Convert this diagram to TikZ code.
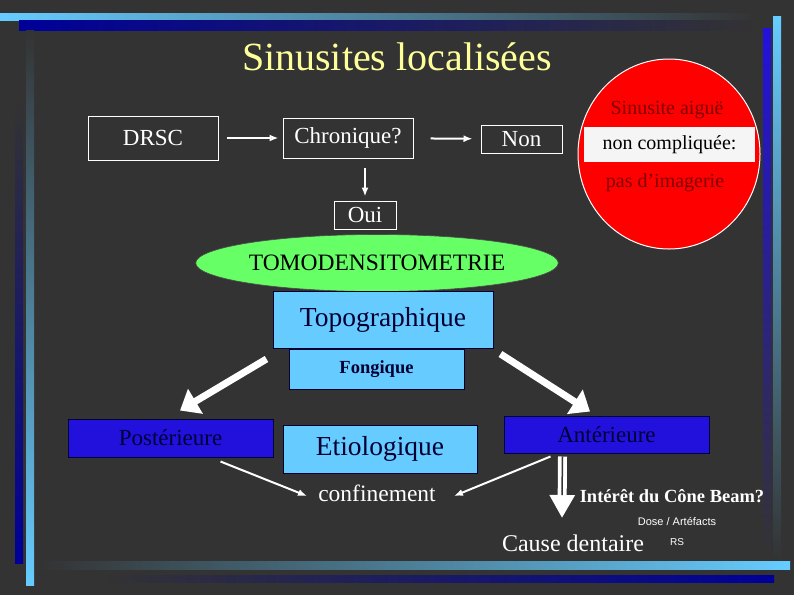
\documentclass[tikz,border=0pt]{standalone}
\usepackage{fontspec}
\setmainfont{Liberation Serif}
\newfontfamily\smallsans{Liberation Sans}
\usepackage{tikz}
\usetikzlibrary{shapes,arrows,arrows.meta,positioning,calc}
\definecolor{slidebg}{HTML}{333333}
\definecolor{titleyellow}{HTML}{FFFF99}
\definecolor{skyblue}{HTML}{66CCFF}
\definecolor{deepblue}{HTML}{2211DD}
\definecolor{navyblue}{HTML}{000099}
\definecolor{boxtext}{HTML}{000033}
\definecolor{tomogreen}{HTML}{66FF66}
\definecolor{stopred}{HTML}{FF0000}
\definecolor{darkred}{HTML}{800000}
\definecolor{bandwhite}{HTML}{F5F5F5}
\tikzset{%
whitebox/.style={rectangle, draw=white, line width=1pt, text=white, inner sep=0pt, font=\fontsize{23}{26}\selectfont},
skybox/.style={rectangle, draw=boxtext, line width=1pt, fill=skyblue, text=boxtext, inner sep=0pt},
bluebox/.style={rectangle, draw=boxtext, line width=1pt, fill=deepblue, text=boxtext, minimum width=205pt, inner sep=0pt, font=\fontsize{23}{26}\selectfont},
stopline/.style={text=darkred, inner sep=0pt, font=\fontsize{20}{22}\selectfont},
plaintext/.style={text=white, inner sep=0pt, font=\fontsize{23.5}{26}\selectfont},
arr/.style={draw=white, line width=2pt, -{Latex[length=9pt,width=7pt]}},
bigarrow/.style={draw=white, line width=7pt, -{Triangle[length=18pt,width=28pt]}}
}

\begin{document}
\begin{tikzpicture}[x=1pt,y=-1pt]
	\useasboundingbox (0,0) rectangle (794,595);
	\fill[slidebg] (0,0) rectangle (794,595);

	% frame bars
	\shade[left color=skyblue, middle color=skyblue!85!slidebg, right color=slidebg] (0,13) rectangle (755,20);
	\shade[left color=navyblue, right color=slidebg] (19,20) rectangle (760,30);
	\shade[top color=slidebg, bottom color=skyblue] (26,30) rectangle (34,585);
	\shade[top color=slidebg, bottom color=navyblue] (15,100) rectangle (23,563);
	\shade[top color=skyblue, bottom color=slidebg] (773,16) rectangle (781,560);
	\shade[top color=deepblue, bottom color=slidebg] (763,28) rectangle (771,555);
	\shade[left color=slidebg, right color=skyblue] (40,561) rectangle (790,569);
	\shade[left color=slidebg, right color=navyblue] (100,575) rectangle (774,582);

	\node[text=titleyellow, font=\fontsize{40}{44}\selectfont] (title) at (397,57) {Sinusites localisées};

	\node[whitebox, minimum width=130pt, minimum height=44pt] (drsc) at (153,138) {DRSC};
	\node[whitebox, minimum width=130pt, minimum height=40pt] (chron) at (348,138) {Chronique?};
	\node[whitebox, minimum width=81pt, minimum height=28pt] (non) at (521.5,139) {Non};
	\node[whitebox, minimum width=62pt, minimum height=28pt] (oui) at (365,215) {Oui};

	% no entry sign
	\node[ellipse, draw=white, line width=1pt, fill=stopred, minimum width=182pt, minimum height=190pt, inner sep=0pt] (stop) at (669,154) {};
	\node[stopline] (acute) at (667,110) {Sinusite aiguë};
	\node[rectangle, fill=bandwhite, minimum width=171pt, minimum height=35pt, inner sep=0pt, font=\fontsize{20}{22}\selectfont] (band) at (669.5,144.5) {non compliquée:};
	\node[stopline] (noimg) at (665,183) {pas d’imagerie};

	\node[ellipse, fill=tomogreen, draw=black!70, line width=0.6pt, minimum width=310pt, minimum height=57pt, inner sep=0pt, font=\fontsize{23.5}{26}\selectfont] (tomo) at (377,263) {TOMODENSITOMETRIE};
	\node[skybox, minimum width=220pt, minimum height=57pt, font=\fontsize{27.5}{30}\selectfont] (topo) at (383,319.5) {Topographique};
	\node[skybox, minimum width=175pt, minimum height=40pt, font=\fontsize{18.5}{20}\selectfont\bfseries] (fong) [below=0pt of topo, xshift=-6.5pt] {Fongique};

	\node[bluebox, minimum height=38pt] (post) at (170.5,438) {Postérieure};
	\node[bluebox, minimum height=37pt] (ante) at (606.5,434.5) {Antérieure};
	\node[skybox, minimum width=194pt, minimum height=48pt, font=\fontsize{27.5}{30}\selectfont] (etio) at (380,449) {Etiologique};
	\node[plaintext] (conf) at (377,493) {confinement};

	\node[plaintext, font=\fontsize{18.5}{20}\selectfont\bfseries] (beam) at (672,496) {Intérêt du Cône Beam?};
	\node[text=white, inner sep=0pt, font=\smallsans\fontsize{11}{12}\selectfont] (dose) at (677,521) {Dose / Artéfacts};
	\node[plaintext, font=\fontsize{24}{26}\selectfont] (cause) at (573,543) {Cause dentaire};
	\node[text=white, inner sep=0pt, font=\smallsans\fontsize{10}{12}\selectfont] (rs) at (677,542) {RS};
	\coordinate (tip) at (562,518);

	\path[arr] (drsc) edge [shorten <=8pt, shorten >=4pt] (chron);
	\path[arr] (chron) edge [shorten <=17pt, shorten >=8pt] (non);
	\draw[arr, shorten <=9pt, shorten >=4pt] (oui.north |- chron.south) -- (oui.north);
	\draw[arr] ($(post.south)+(50,4)$) -- ($(conf.west)+(-11,3)$);
	\draw[arr] ($(ante.south)+(-56,3)$) -- ($(conf.east)+(18,3)$);

	\draw[bigarrow] ($(fong.west)+(-22,-10)$) -- ($(post.north)+(9.5,-8)$);
	\draw[bigarrow] ($(fong.east)+(36,-15)$) -- ($(ante.north)+(-16.5,-4)$);
	% double shaft arrow
	\draw[draw=white, line width=9pt, -{Triangle[length=23pt,width=24pt]}] ($(ante.south)+(-44,3)$) -- (tip);
	\draw[slidebg, line width=1.5pt] ($(ante.south)+(-44,3)$) -- ($(tip)+(0,-23)$);
\end{tikzpicture}
\end{document}
